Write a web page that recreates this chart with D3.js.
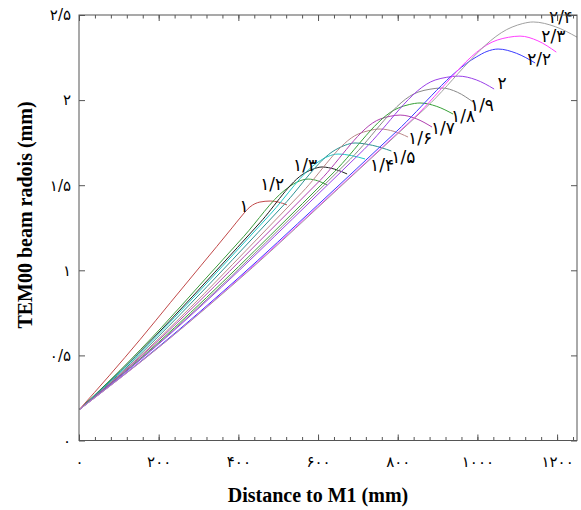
<!DOCTYPE html>
<html>
<head>
<meta charset="utf-8">
<script src="https://cdn.jsdelivr.net/npm/d3@7"></script>
<style>
  body { margin: 0; background: #fff; }
</style>
</head>
<body>
<div id="chart"></div>
<script>
// chart size and plot box
const width = 581,
      height = 510,
      margin = {top: 15, bottom: 69.5, left: 79, right: 4};

// labels of the curves, in drawing order
const curveLabels = ["۱", "۱/۲", "۱/۳", "۱/۴", "۱/۵", "۱/۶", "۱/۷", "۱/۸", "۱/۹", "۲", "۲/۲", "۲/۳", "۲/۴"];

// tick values and their labels
const xTicks = [0, 200, 400, 600, 800, 1000, 1200];
const xTickLabels = ["۰", "۲۰۰", "۴۰۰", "۶۰۰", "۸۰۰", "۱۰۰۰", "۱۲۰۰"];
const yTicks = [0, 0.5, 1, 1.5, 2, 2.5];
const yTickLabels = ["۰", "۰/۵", "۱", "۱/۵", "۲", "۲/۵"];

// beam radius (mm) vs distance to M1 (mm)
const r10 = [[0,0.18],[77,0.384],[154,0.595],[230,0.812],[307,1.030],[384,1.249],[404,1.307],[429,1.372],[454,1.401],[480,1.407],[500,1.401],[522,1.384]];
const r12 = [[0,0.18],[103,0.412],[207,0.664],[310,0.931],[414,1.200],[517,1.472],[546,1.517],[575,1.536],[599,1.526],[623,1.501]];
const r13 = [[0,0.18],[114,0.430],[227,0.701],[341,0.989],[454,1.279],[567,1.572],[589,1.596],[610,1.607],[642,1.594],[673,1.566]];
const r14 = [[0,0.18],[120,0.440],[240,0.723],[360,1.024],[480,1.329],[600,1.636],[625,1.669],[650,1.683],[684,1.674],[718,1.654]];
const r15 = [[0,0.18],[129,0.451],[257,0.748],[386,1.064],[514,1.384],[643,1.707],[668,1.735],[693,1.748],[737,1.734],[784,1.701]];
const r16 = [[0,0.18],[140,0.466],[280,0.782],[420,1.118],[560,1.458],[701,1.801],[728,1.821],[756,1.830],[791,1.816],[826,1.783]];
const r17 = [[0,0.18],[151,0.484],[302,0.818],[453,1.171],[605,1.528],[756,1.889],[781,1.905],[806,1.912],[846,1.891],[886,1.842]];
const r18 = [[0,0.18],[160,0.494],[320,0.840],[481,1.207],[641,1.579],[801,1.953],[829,1.974],[856,1.983],[898,1.963],[939,1.918]];
const r19 = [[0,0.18],[170,0.510],[341,0.873],[511,1.260],[681,1.653],[851,2.047],[881,2.064],[911,2.071],[950,2.046],[989,1.989]];
const r20 = [[0,0.18],[179,0.524],[358,0.902],[536,1.302],[715,1.709],[894,2.118],[923,2.134],[952,2.141],[997,2.119],[1042,2.065]];
const r22 = [[0,0.18],[199,0.549],[399,0.953],[598,1.381],[797,1.816],[997,2.253],[1024,2.286],[1052,2.300],[1098,2.275],[1145,2.218]];
const r23 = [[0,0.18],[210,0.566],[420,0.989],[630,1.439],[840,1.894],[1050,2.353],[1078,2.369],[1107,2.376],[1152,2.348],[1198,2.282]];
const r24 = [[0,0.18],[217,0.579],[435,1.015],[652,1.482],[870,1.954],[1087,2.429],[1114,2.450],[1140,2.459],[1196,2.431],[1250,2.37]];

const curves = [r10, r12, r13, r14, r15, r16, r17, r18, r19, r20, r22, r23, r24];

const colors = ["#c04848", "#3c9c3c", "#202020", "#20c8c8", "#2a9090", "#b88888", "#b040b0",
                "#38a038", "#888888", "#9a40e8", "#3a3aff", "#ff40ff", "#a0a0a0"];

// where each label sits, in pixels from the end of its curve
const labelOffsets = [[-43, 1], [-55, -1], [-42, -9], [17, 6], [12, 6], [12, 1], [11, 1],
                      [10, 2], [9, 3], [8, -6], [4, -4], [-3, -16], [-16, -20]];

const svg = d3.select("#chart")
  .append("svg")
  .attr("width", width)
  .attr("height", height);

const xScale = d3.scaleLinear()
  .domain([0, 1250])
  .range([margin.left, width - margin.right]);

const yScale = d3.scaleLinear()
  .domain([0, 2.5])
  .range([height - margin.bottom, margin.top]);

svg.append("clipPath")
  .attr("id", "plot")
  .append("rect")
  .attr("x", margin.left)
  .attr("y", margin.top)
  .attr("width", width - margin.left - margin.right)
  .attr("height", height - margin.top - margin.bottom);

// curves
const line = d3.line()
  .x(d => xScale(d[0]))
  .y(d => yScale(d[1]))
  .curve(d3.curveMonotoneX);

svg.append("g")
  .attr("clip-path", "url(#plot)")
  .selectAll("path")
  .data(curves)
  .enter()
  .append("path")
  .attr("fill", "none")
  .attr("stroke", (d, i) => colors[i])
  .attr("stroke-width", 1)
  .attr("d", line);

// curve labels
svg.append("g")
  .selectAll("text")
  .data(curves)
  .enter()
  .append("text")
  .attr("x", (d, i) => xScale(d[d.length - 1][0]) + labelOffsets[i][0])
  .attr("y", (d, i) => yScale(d[d.length - 1][1]) + labelOffsets[i][1])
  .attr("text-anchor", "middle")
  .attr("dominant-baseline", "central")
  .style("font-family", "DejaVu Sans")
  .style("font-size", "17px")
  .text((d, i) => curveLabels[i]);

// axes: ticks point inwards on all four sides
const minorX = d3.range(0, 1250, 40);
const axisColor = "#555";

function styleAxis(g) {
  g.select(".domain").remove();
  g.selectAll("line").attr("stroke", axisColor);
}

svg.append("g")
  .attr("transform", "translate(0," + yScale(0) + ")")
  .call(d3.axisBottom(xScale).tickValues(minorX).tickSize(-3.5).tickFormat(""))
  .call(styleAxis);

svg.append("g")
  .attr("transform", "translate(0," + yScale(0) + ")")
  .call(d3.axisBottom(xScale).tickValues(xTicks).tickSize(-6).tickPadding(16)
    .tickFormat((d, i) => xTickLabels[i]))
  .call(styleAxis)
  .call(g => g.selectAll("text")
    .style("font-family", "DejaVu Sans")
    .style("font-size", "15px")
    .attr("fill", "#000"));

svg.append("g")
  .attr("transform", "translate(0," + yScale(2.5) + ")")
  .call(d3.axisTop(xScale).tickValues(minorX).tickSize(-3.5).tickFormat(""))
  .call(styleAxis);

svg.append("g")
  .attr("transform", "translate(0," + yScale(2.5) + ")")
  .call(d3.axisTop(xScale).tickValues(xTicks).tickSize(-6).tickFormat(""))
  .call(styleAxis);

svg.append("g")
  .attr("transform", "translate(" + xScale(0) + ",0)")
  .call(d3.axisLeft(yScale).tickValues(yTicks).tickSize(-6).tickPadding(8)
    .tickFormat((d, i) => yTickLabels[i]))
  .call(styleAxis)
  .call(g => g.selectAll("text")
    .style("font-family", "DejaVu Sans")
    .style("font-size", "15px")
    .attr("fill", "#000"));

svg.append("g")
  .attr("transform", "translate(" + xScale(1250) + ",0)")
  .call(d3.axisRight(yScale).tickValues(yTicks).tickSize(-6).tickFormat(""))
  .call(styleAxis);

// frame
svg.append("rect")
  .attr("x", xScale(0))
  .attr("y", yScale(2.5))
  .attr("width", xScale(1250) - xScale(0))
  .attr("height", yScale(0) - yScale(2.5))
  .attr("fill", "none")
  .attr("stroke", axisColor)
  .attr("stroke-width", 1);

// axis titles
svg.append("text")
  .attr("x", 318)
  .attr("y", 502)
  .attr("text-anchor", "middle")
  .style("font-family", "Liberation Serif, serif")
  .style("font-weight", "bold")
  .style("font-size", "20px")
  .text("Distance to M1 (mm)");

svg.append("text")
  .attr("transform", "translate(32,215) rotate(-90)")
  .attr("text-anchor", "middle")
  .style("font-family", "Liberation Serif, serif")
  .style("font-weight", "bold")
  .style("font-size", "20px")
  .text("TEM00 beam radois (mm)");
</script>
</body>
</html>
